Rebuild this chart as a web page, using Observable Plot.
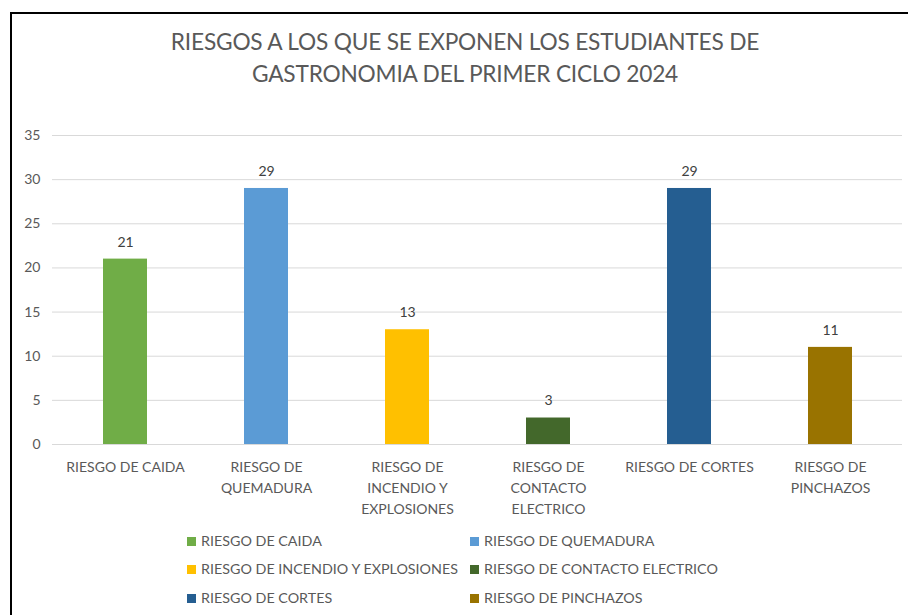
<!DOCTYPE html>
<html>
<head>
<meta charset="utf-8">
<script src="https://cdn.jsdelivr.net/npm/d3@7"></script>
<script src="https://cdn.jsdelivr.net/npm/@observablehq/plot@0.6"></script>
<style>
  html, body { margin: 0; padding: 0; background: #fff; }
  body { width: 908px; height: 615px; position: relative; overflow: hidden; font-family: Lato, "Open Sans", sans-serif; }
  #frame { position: absolute; left: 10px; top: 12px; width: 920px; height: 620px; border-top: 2px solid #000; border-left: 2px solid #000; box-sizing: border-box; }
  #title { position: absolute; left: 10px; width: 910px; top: 26px; text-align: center; color: #595959; font-size: 22.7px; line-height: 32px; letter-spacing: -0.2px; }
  #chart { position: absolute; left: 0; top: 100px; }
  #legend { position: absolute; left: 0; top: 0; width: 908px; height: 615px; pointer-events: none; }
  .li { position: absolute; font-size: 14.3px; color: #595959; white-space: nowrap; line-height: 16px; }
  .sw { display: inline-block; width: 9px; height: 9px; margin-right: 5px; vertical-align: 0px; }
</style>
</head>
<body>
<div id="frame"></div>
<div id="title">RIESGOS A LOS QUE SE EXPONEN LOS ESTUDIANTES DE<br>GASTRONOMIA DEL PRIMER CICLO 2024</div>
<div id="chart"></div>
<div id="legend"></div>
<script>
const categories = ["RIESGO DE CAIDA", "RIESGO DE QUEMADURA", "RIESGO DE INCENDIO Y EXPLOSIONES", "RIESGO DE CONTACTO ELECTRICO", "RIESGO DE CORTES", "RIESGO DE PINCHAZOS"];
const values = [21, 29, 13, 3, 29, 11];
const colors = ["#70AD47", "#5B9BD5", "#FFC000", "#43682B", "#255E91", "#997300"];
const tickLabels = ["RIESGO DE CAIDA", "RIESGO DE\nQUEMADURA", "RIESGO DE\nINCENDIO Y\nEXPLOSIONES", "RIESGO DE\nCONTACTO\nELECTRICO", "RIESGO DE CORTES", "RIESGO DE\nPINCHAZOS"];
const yTicks = [0, 5, 10, 15, 20, 25, 30, 35];

const data = categories.map((c, i) => ({cat: c, value: values[i]}));
const labelOf = new Map(categories.map((c, i) => [c, tickLabels[i]]));

const chart = Plot.plot({
  width: 908,
  height: 420,
  marginTop: 35,
  marginBottom: 76,
  marginLeft: 52,
  marginRight: 6,
  style: {fontFamily: "Lato, 'Open Sans', sans-serif", fontSize: "14px", color: "#595959", background: "transparent"},
  x: {domain: categories, paddingInner: 0.69, paddingOuter: 0.345, label: null},
  y: {domain: [0, 35], label: null},
  color: {domain: categories, range: colors},
  marks: [
    Plot.gridY(yTicks, {stroke: "#d9d9d9", strokeOpacity: 1, strokeWidth: 1}),
    Plot.barY(data, {x: "cat", y: "value", fill: "cat"}),
    Plot.ruleY([0], {stroke: "#d9d9d9", strokeWidth: 1}),
    Plot.text(data, {x: "cat", y: "value", text: d => String(d.value), dy: -17, fill: "#404040", fontSize: 14}),
    Plot.axisY(yTicks, {tickSize: 0, tickPadding: 12, fontSize: 14, fill: "#595959", label: null}),
    Plot.axisX({tickSize: 0, tickPadding: 13, fontSize: 14, fill: "#595959", lineHeight: 1.5, tickFormat: d => labelOf.get(d), label: null})
  ]
});
document.getElementById("chart").appendChild(chart);

// legend (two columns, three rows)
const legend = document.getElementById("legend");
const colX = [187, 470];
const rowY = [533, 561, 590];
categories.forEach((c, i) => {
  const el = document.createElement("div");
  el.className = "li";
  el.style.left = colX[i % 2] + "px";
  el.style.top = rowY[Math.floor(i / 2)] + "px";
  const sw = document.createElement("span");
  sw.className = "sw";
  sw.style.background = colors[i];
  el.appendChild(sw);
  el.appendChild(document.createTextNode(c));
  legend.appendChild(el);
});
</script>
</body>
</html>
